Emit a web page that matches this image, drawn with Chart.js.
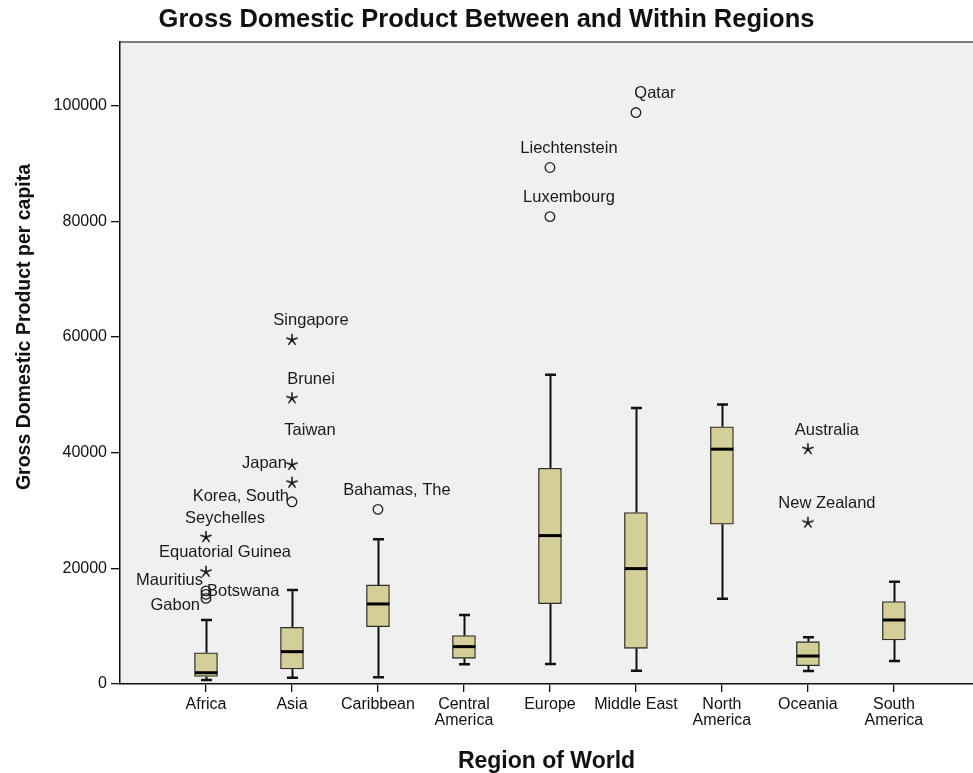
<!DOCTYPE html>
<html>
<head>
<meta charset="utf-8">
<script src="https://cdn.jsdelivr.net/npm/chart.js@4"></script>
<style>
  html, body { margin: 0; padding: 0; background: #ffffff; }
  canvas { display: block; }
</style>
</head>
<body>
<canvas id="c" width="973" height="773"></canvas>
<script>
// ---------------- DATA ----------------
const categories = ['Africa', 'Asia', 'Caribbean', 'Central America', 'Europe', 'Middle East', 'North America', 'Oceania', 'South America'];
const tickLabels = [['Africa'], ['Asia'], ['Caribbean'], ['Central', 'America'], ['Europe'], ['Middle East'], ['North', 'America'], ['Oceania'], ['South', 'America']];

const whiskerLow  = [700,   1100,  1150,  3400,  3460,  2300,  14760, 2250, 3980];
const q1          = [1300,  2600,  9920,  4440,  13900, 6170,  27630, 3170, 7610];
const median      = [1950,  5590,  13840, 6460,  25660, 19950, 40600, 4840, 11070];
const q3          = [5400,  9810,  17130, 8360,  37310, 29640, 44460, 7320, 14240];
const whiskerHigh = [11070, 16260, 25030, 11940, 53460, 47700, 48330, 8080, 17700];

const outlierNames  = ['Seychelles', 'Equatorial Guinea', 'Mauritius', 'Botswana', 'Gabon', 'Singapore', 'Brunei', 'Taiwan', 'Japan', 'Korea, South', 'Bahamas, The', 'Liechtenstein', 'Luxembourg', 'Qatar', 'Australia', 'New Zealand'];
const outlierRegion = [0, 0, 0, 0, 0, 1, 1, 1, 1, 1, 2, 4, 4, 5, 7, 7];
const outlierValues = [25400, 19400, 16100, 15500, 14800, 59500, 49400, 37900, 34800, 31500, 30200, 89300, 80800, 98800, 40600, 27900];
const outlierKind   = ['*', '*', 'o', 'o', 'o', '*', '*', '*', '*', 'o', 'o', 'o', 'o', 'o', '*', '*'];

const yTicks = [0, 20000, 40000, 60000, 80000, 100000];

const chartTitle = 'Gross Domestic Product Between and Within Regions';
const xTitle = 'Region of World';
const yTitle = 'Gross Domestic Product per capita';

// ---------------- STYLE ----------------
const FONT = "'Liberation Sans', Arial, Helvetica, sans-serif";
const BOX_FILL = '#d4cf98';
const BOX_BORDER = '#2e2e26';
const PLOT_BG = '#f0f0f0';

// label placement (pixels) for outlier labels; default is up-right
const labelPlacement = {
  'Taiwan':       { dx: 18, dy: -34, align: 'center' },
  'Japan':        { dx: -5, dy: -19, align: 'right' },
  'Korea, South': { dx: -3, dy: -5,  align: 'right' },
  'Mauritius':    { dx: -3, dy: -10, align: 'right' },
  'Botswana':     { dx: 1,  dy: -3,  align: 'left' },
  'Gabon':        { dx: -6, dy: 7,   align: 'right' }
};
const defaultPlacement = { dx: 19, dy: -19, align: 'center' };

// asterisk marker image
function makeStar() {
  const s = 14, c = document.createElement('canvas');
  c.width = s; c.height = s;
  const g = c.getContext('2d');
  g.strokeStyle = '#111';
  g.lineWidth = 1.5;
  g.lineCap = 'round';
  const r = 5.4, cx = s / 2, cy = s / 2;
  g.beginPath();
  for (let k = 0; k < 5; k++) {
    const a = (-90 + k * 72) * Math.PI / 180;
    g.moveTo(cx, cy);
    g.lineTo(cx + r * Math.cos(a), cy + r * Math.sin(a));
  }
  g.stroke();
  return c;
}
const starImg = makeStar();

// ---------------- DATASETS ----------------
const boxData = categories.map((_, i) => ({ x: i, y: [q1[i], q3[i]] }));
const circlePts = [], starPts = [];
outlierValues.forEach((v, k) => {
  const p = { x: outlierRegion[k], y: v };
  (outlierKind[k] === 'o' ? circlePts : starPts).push(p);
});

// ---------------- PLUGINS ----------------
const framePlugin = {
  id: 'frame',
  beforeDraw(chart) {
    const { ctx, chartArea: a } = chart;
    ctx.save();
    ctx.fillStyle = PLOT_BG;
    ctx.fillRect(a.left, a.top, a.right - a.left, a.bottom - a.top);
    ctx.strokeStyle = '#555';
    ctx.lineWidth = 1.5;
    ctx.beginPath();
    ctx.moveTo(a.left, a.top);
    ctx.lineTo(a.right, a.top);
    ctx.stroke();
    ctx.restore();
  }
};

const boxPlugin = {
  id: 'boxparts',
  beforeDatasetsDraw(chart) {
    const { ctx, scales: { x, y } } = chart;
    ctx.save();
    ctx.strokeStyle = '#111';
    categories.forEach((_, i) => {
      const px = Math.round(x.getPixelForValue(i)) + 0.5;
      ctx.lineWidth = 2;
      ctx.beginPath();
      ctx.moveTo(px, y.getPixelForValue(q3[i]));
      ctx.lineTo(px, y.getPixelForValue(whiskerHigh[i]));
      ctx.moveTo(px, y.getPixelForValue(q1[i]));
      ctx.lineTo(px, y.getPixelForValue(whiskerLow[i]));
      ctx.stroke();
      ctx.lineWidth = 2.5;
      ctx.beginPath();
      [whiskerHigh[i], whiskerLow[i]].forEach(v => {
        const py = y.getPixelForValue(v);
        ctx.moveTo(px - 5.5, py);
        ctx.lineTo(px + 5.5, py);
      });
      ctx.stroke();
    });
    ctx.restore();
  },
  afterDatasetsDraw(chart) {
    const { ctx, scales: { x, y } } = chart;
    ctx.save();
    ctx.strokeStyle = '#000';
    ctx.lineWidth = 3;
    categories.forEach((_, i) => {
      const px = x.getPixelForValue(i);
      const py = y.getPixelForValue(median[i]);
      ctx.beginPath();
      ctx.moveTo(px - 11, py);
      ctx.lineTo(px + 11.5, py);
      ctx.stroke();
    });
    // outlier labels
    ctx.fillStyle = '#1a1a1a';
    ctx.font = '16.5px ' + FONT;
    ctx.textBaseline = 'middle';
    outlierNames.forEach((name, k) => {
      const pl = labelPlacement[name] || defaultPlacement;
      const px = x.getPixelForValue(outlierRegion[k]);
      const py = y.getPixelForValue(outlierValues[k]);
      ctx.textAlign = pl.align;
      ctx.fillText(name, px + pl.dx, py + pl.dy);
    });
    ctx.restore();
  },
  afterDraw(chart) {
    const { ctx } = chart;
    ctx.save();
    ctx.translate(25, 327);
    ctx.rotate(-Math.PI / 2);
    ctx.fillStyle = '#111';
    ctx.font = 'bold 19.5px ' + FONT;
    ctx.textAlign = 'center';
    ctx.textBaseline = 'middle';
    ctx.fillText(yTitle, 0, 0);
    ctx.restore();
  }
};

// ---------------- CHART ----------------
new Chart(document.getElementById('c'), {
  type: 'bar',
  data: {
    datasets: [
      {
        type: 'bar',
        data: boxData,
        backgroundColor: BOX_FILL,
        borderColor: BOX_BORDER,
        borderWidth: 1.3,
        borderSkipped: false,
        barThickness: 23,
        order: 2
      },
      {
        type: 'scatter',
        data: circlePts,
        pointStyle: 'circle',
        pointRadius: 4.8,
        pointBorderWidth: 1.3,
        pointBorderColor: '#222',
        pointBackgroundColor: 'rgba(0,0,0,0)',
        order: 1
      },
      {
        type: 'scatter',
        data: starPts,
        pointStyle: starImg,
        pointRadius: 6,
        order: 1
      }
    ]
  },
  options: {
    responsive: false,
    animation: false,
    layout: { padding: 0, autoPadding: false },
    plugins: {
      legend: { display: false },
      tooltip: { enabled: false },
      title: {
        display: true,
        text: chartTitle,
        color: '#111',
        font: { family: FONT, size: 25.5, weight: 'bold', lineHeight: 1.2 },
        padding: { top: 5, bottom: 6.4 }
      }
    },
    scales: {
      x: {
        type: 'linear',
        min: -1,
        max: 8.92,
        offset: false,
        afterBuildTicks: (s) => { s.ticks = categories.map((_, i) => ({ value: i })); },
        afterFit: (s) => { s.height = 89; s.paddingRight = 0; s.paddingLeft = 0; },
        ticks: {
          autoSkip: false,
          maxRotation: 0,
          padding: 5,
          color: '#111',
          font: { family: FONT, size: 16, lineHeight: 1.0 },
          callback: (v) => tickLabels[v]
        },
        grid: { display: true, offset: false, drawOnChartArea: false, drawTicks: true, tickLength: 8, color: '#111', lineWidth: 1.3 },
        border: { display: true, color: '#111', width: 1.5 },
        title: {
          display: true,
          text: xTitle,
          color: '#111',
          font: { family: FONT, size: 23, weight: 'bold', lineHeight: 1.0 },
          padding: { top: 0, bottom: 0 }
        }
      },
      y: {
        type: 'linear',
        min: 0,
        max: 111000,
        afterBuildTicks: (s) => { s.ticks = yTicks.map(v => ({ value: v })); },
        afterFit: (s) => { s.width = 120; s.paddingTop = 0; s.paddingBottom = 0; },
        ticks: {
          padding: 4,
          color: '#111',
          font: { family: FONT, size: 16 },
          callback: (v) => String(v)
        },
        grid: { display: true, drawOnChartArea: false, drawTicks: true, tickLength: 9, color: '#111', lineWidth: 1.3 },
        border: { display: true, color: '#111', width: 1.5 }
      }
    }
  },
  plugins: [framePlugin, boxPlugin]
});
</script>
</body>
</html>
